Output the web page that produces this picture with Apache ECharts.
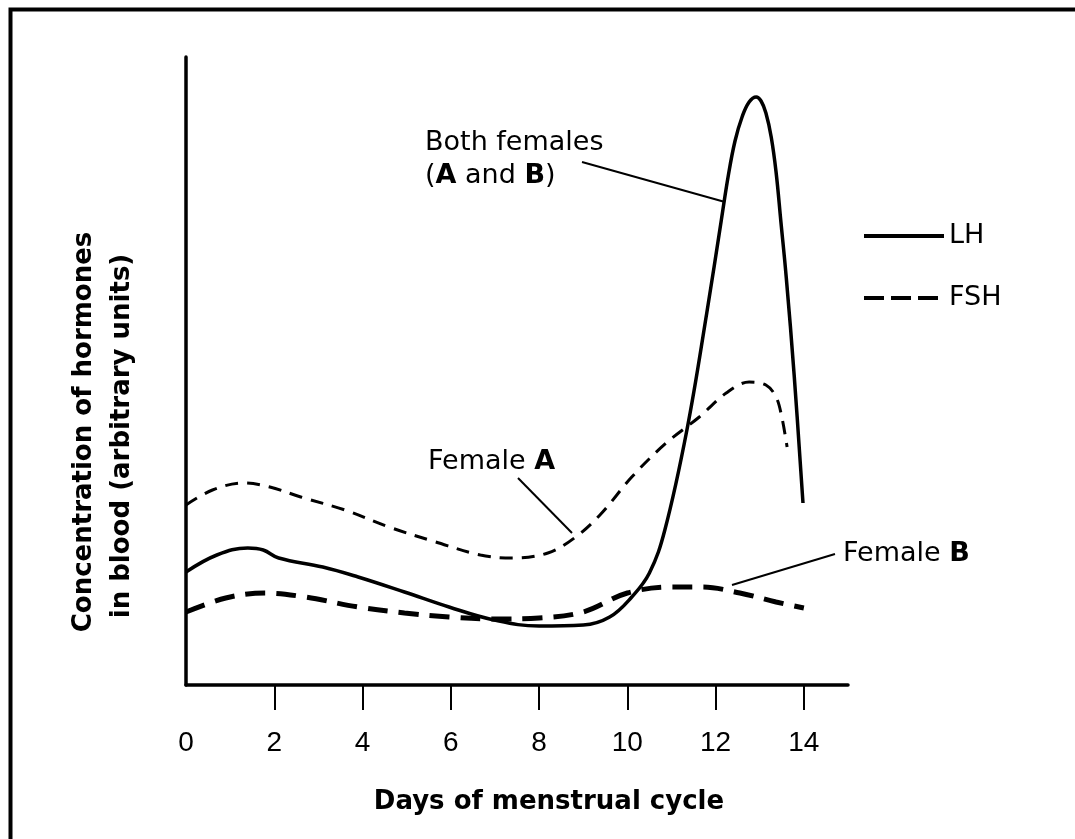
<!DOCTYPE html>
<html>
<head>
<meta charset="utf-8">
<script src="https://cdn.jsdelivr.net/npm/echarts@6/dist/echarts.min.js"></script>
<style>
html,body{margin:0;padding:0;background:#fff;}
#c{width:1075px;height:839px;}
</style>
</head>
<body>
<div id="c"></div>
<script>
// ---- data ----
const xTickValues = [2, 4, 6, 8, 10, 12, 14];
const xLabelValues = [0, 2, 4, 6, 8, 10, 12, 14];

// LH, both females
const lhDays = [0, 0.7, 1.4, 1.75, 2.1, 3.1, 3.9, 4.95, 5.96, 6.98, 8.0, 9.0, 9.6, 10.1, 10.5, 10.85, 11.35, 11.8, 12.13, 12.29, 12.44, 12.6, 12.76, 12.92, 13.03, 13.14, 13.26, 13.37, 13.48, 13.6, 13.78, 13.98];
const lhValues = [11.3, 13.0, 13.7, 13.5, 12.7, 11.8, 10.8, 9.3, 7.8, 6.5, 5.9, 6.0, 6.8, 8.8, 11.2, 15.5, 25.5, 37.2, 46.5, 51.0, 54.4, 56.8, 58.3, 58.8, 58.4, 57.2, 54.8, 51.3, 46.3, 40.8, 31.0, 18.2];

// FSH, female A
const fshADays = [0, 0.6, 1.3, 1.9, 2.6, 3.6, 4.6, 5.66, 6.67, 7.38, 8.2, 8.8, 9.4, 10.1, 10.88, 11.63, 12.24, 12.76, 13.14, 13.37, 13.5, 13.62];
const fshAValues = [18.0, 19.5, 20.2, 19.8, 18.8, 17.5, 15.8, 14.3, 13.0, 12.7, 13.2, 14.7, 17.1, 20.8, 24.2, 26.8, 29.2, 30.3, 30.0, 28.8, 26.8, 23.8];

// FSH, female B
const fshBDays = [0, 0.9, 1.8, 2.7, 3.9, 4.95, 5.96, 6.98, 8.0, 9.0, 10.0, 11.0, 11.7, 12.55, 13.37, 14.0];
const fshBValues = [7.3, 8.7, 9.2, 8.8, 7.8, 7.2, 6.8, 6.6, 6.7, 7.3, 9.2, 9.8, 9.8, 9.2, 8.3, 7.7];

const pair = (xs, ys) => xs.map((x, i) => [x, ys[i]]);

const FONT = 'DejaVu Sans';
const chart = echarts.init(document.getElementById('c'), null, {renderer: 'canvas'});

chart.setOption({
  backgroundColor: '#ffffff',
  animation: false,
  color: ['#000', '#000', '#000'],
  grid: {left: 186, right: 227, top: 57, bottom: 154, containLabel: false},
  xAxis: {
    type: 'value', min: 0, max: 15, interval: 2,
    splitLine: {show: false},
    axisLine: {show: true, lineStyle: {color: '#000', width: 3.5}},
    axisTick: {show: true, length: 25, inside: false, customValues: xTickValues, lineStyle: {color: '#000', width: 2}},
    axisLabel: {show: true, customValues: xLabelValues, margin: 44, color: '#000',
      fontFamily: '"Liberation Sans Narrow", "Liberation Sans", Arial, sans-serif', fontSize: 28}
  },
  yAxis: {
    type: 'value', min: 0, max: 62.8,
    splitLine: {show: false},
    axisLine: {show: true, lineStyle: {color: '#000', width: 3.5}},
    axisTick: {show: false},
    axisLabel: {show: false}
  },
  legend: {
    orient: 'vertical', left: 862, top: 221, itemWidth: 80, itemHeight: 30, itemGap: 32,
    padding: 0,
    itemStyle: {opacity: 0},
    textStyle: {color: '#000', fontFamily: FONT, fontSize: 27, lineHeight: 30, padding: [0,0,0,0]},
    data: [
      {name: 'LH', itemStyle: {opacity: 0}, lineStyle: {color: '#000', width: 4, type: 'solid', opacity: 1}},
      {name: 'FSH', itemStyle: {opacity: 0}, lineStyle: {color: '#000', width: 4, type: [20, 7], opacity: 1}}
    ],
    selectedMode: false
  },
  series: [
    {name: 'LH', type: 'line', data: pair(lhDays, lhValues), smooth: 0.4, symbol: 'none',
      itemStyle: {color: '#000'},
      lineStyle: {color: '#000', width: 3.5, type: 'solid'}, z: 3},
    {name: 'FSH', type: 'line', data: pair(fshADays, fshAValues), smooth: 0.35, symbol: 'none',
      itemStyle: {color: '#000'},
      lineStyle: {color: '#000', width: 3, type: [13, 9]}, z: 2},
    {name: 'FSH', type: 'line', data: pair(fshBDays, fshBValues), smooth: 0.35, symbol: 'none',
      itemStyle: {color: '#000'},
      lineStyle: {color: '#000', width: 5, type: [20, 11]}, z: 2}
  ],
  graphic: [
    // outer frame (top and left edges visible)
    {type: 'polyline', shape: {points: [[10.5, 845], [10.5, 9.5], [1080, 9.5]]},
      style: {stroke: '#000', lineWidth: 4, fill: null}},
    // x axis title
    {type: 'text', x: 549, y: 802, style: {text: 'Days of menstrual cycle', fontFamily: FONT, fontWeight: 'bold',
      fontSize: 26, fill: '#000', align: 'center', verticalAlign: 'middle'}},
    // y axis title (two rotated lines)
    {type: 'text', x: 84, y: 432, rotation: Math.PI / 2, style: {text: 'Concentration of hormones', fontFamily: FONT,
      fontWeight: 'bold', fontSize: 26, fill: '#000', align: 'center', verticalAlign: 'middle'}},
    {type: 'text', x: 122, y: 436, rotation: Math.PI / 2, style: {text: 'in blood (arbitrary units)', fontFamily: FONT,
      fontWeight: 'bold', fontSize: 26, fill: '#000', align: 'center', verticalAlign: 'middle'}},
    // annotations
    {type: 'text', x: 425, y: 143, style: {text: 'Both females', fontFamily: FONT, fontSize: 27, fill: '#000',
      align: 'left', verticalAlign: 'middle'}},
    {type: 'text', x: 425, y: 176, style: {text: '({b|A} and {b|B})', fontFamily: FONT, fontSize: 27, fill: '#000',
      align: 'left', verticalAlign: 'middle',
      rich: {b: {fontFamily: FONT, fontSize: 27, fontWeight: 'bold', fill: '#000'}}}},
    {type: 'line', shape: {x1: 582, y1: 162, x2: 725, y2: 202}, style: {stroke: '#000', lineWidth: 2}},
    {type: 'text', x: 428, y: 462, style: {text: 'Female {b|A}', fontFamily: FONT, fontSize: 27, fill: '#000',
      align: 'left', verticalAlign: 'middle',
      rich: {b: {fontFamily: FONT, fontSize: 27, fontWeight: 'bold', fill: '#000'}}}},
    {type: 'line', shape: {x1: 518, y1: 478, x2: 572, y2: 533}, style: {stroke: '#000', lineWidth: 2}},
    {type: 'text', x: 843, y: 554, style: {text: 'Female {b|B}', fontFamily: FONT, fontSize: 27, fill: '#000',
      align: 'left', verticalAlign: 'middle',
      rich: {b: {fontFamily: FONT, fontSize: 27, fontWeight: 'bold', fill: '#000'}}}},
    {type: 'line', shape: {x1: 835, y1: 554, x2: 732, y2: 585}, style: {stroke: '#000', lineWidth: 2}}
  ]
});
</script>
</body>
</html>
